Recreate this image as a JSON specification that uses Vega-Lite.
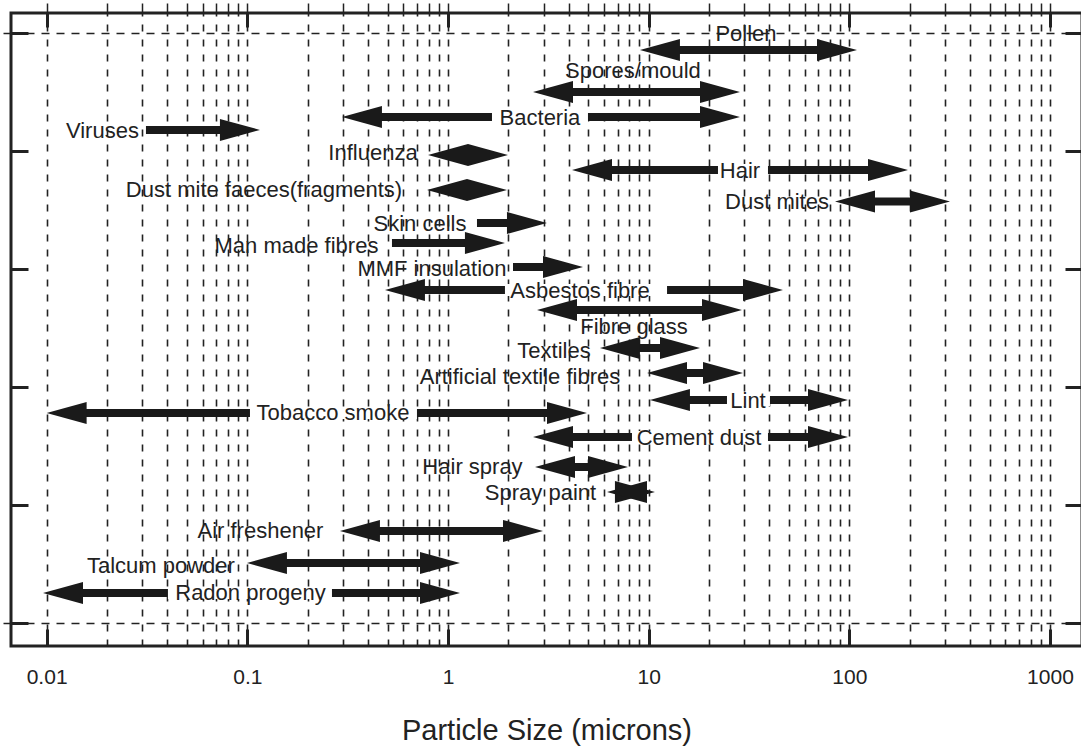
{
  "$schema": "https://vega.github.io/schema/vega-lite/v6.json",
  "width": 1071,
  "height": 633,
  "autosize": {"type": "none"},
  "padding": {"left": 11, "top": 13, "right": 0, "bottom": 108},
  "background": "white",
  "data": {
    "values": [
      {"item": "Pollen", "lo": 9.05, "hi": 109.2, "heads": "both", "ay": 4.856, "lx": 30.56, "ly": 4.99},
      {"item": "Spores/mould", "lo": 2.652, "hi": 28.52, "heads": "both", "ay": 4.5, "lx": 8.356, "ly": 4.68},
      {"item": "Bacteria", "lo": 0.2963, "hi": 28.52, "heads": "both", "ay": 4.288, "lx": 2.874, "ly": 4.278, "glo": 1.657, "ghi": 4.985},
      {"item": "Viruses", "lo": 0.03126, "hi": 0.1156, "heads": "right", "ay": 4.178, "lx": 0.01897, "ly": 4.168},
      {"item": "Influenza", "lo": 0.795, "hi": 1.991, "heads": "both", "ay": 3.966, "lx": 0.4229, "ly": 3.986},
      {"item": "Hair", "lo": 4.149, "hi": 196.1, "heads": "both", "ay": 3.839, "lx": 28.52, "ly": 3.833, "glo": 22.16, "ghi": 39.33},
      {"item": "Dust mite faeces(fragments)", "lo": 0.786, "hi": 1.968, "heads": "both", "ay": 3.669, "lx": 0.1211, "ly": 3.672},
      {"item": "Dust mites", "lo": 84.87, "hi": 317.5, "heads": "both", "ay": 3.572, "lx": 43.61, "ly": 3.571},
      {"item": "Skin cells", "lo": 1.395, "hi": 3.114, "heads": "right", "ay": 3.39, "lx": 0.7252, "ly": 3.384},
      {"item": "Man made fibres", "lo": 0.5259, "hi": 1.923, "heads": "right", "ay": 3.22, "lx": 0.1758, "ly": 3.198},
      {"item": "MMF insulation", "lo": 2.109, "hi": 4.708, "heads": "right", "ay": 3.017, "lx": 0.8322, "ly": 3.003},
      {"item": "Asbestos fibre", "lo": 0.4853, "hi": 46.71, "heads": "both", "ay": 2.822, "lx": 4.548, "ly": 2.816, "glo": 1.923, "ghi": 12.35},
      {"item": "Fibre glass", "lo": 2.777, "hi": 29.18, "heads": "both", "ay": 2.653, "lx": 8.452, "ly": 2.511},
      {"item": "Textiles", "lo": 5.72, "hi": 18.03, "heads": "both", "ay": 2.331, "lx": 3.375, "ly": 2.308},
      {"item": "Artificial textile fibres", "lo": 9.81, "hi": 29.52, "heads": "both", "ay": 2.119, "lx": 2.285, "ly": 2.083},
      {"item": "Lint", "lo": 10.15, "hi": 98.5, "heads": "both", "ay": 1.89, "lx": 31.27, "ly": 1.884, "glo": 24.57, "ghi": 40.24},
      {"item": "Tobacco smoke", "lo": 0.01, "hi": 4.928, "heads": "both", "ay": 1.78, "lx": 0.2673, "ly": 1.782, "glo": 0.1031, "ghi": 0.7006},
      {"item": "Cement dust", "lo": 2.652, "hi": 98.5, "heads": "both", "ay": 1.576, "lx": 17.82, "ly": 1.571, "glo": 8.26, "ghi": 39.33},
      {"item": "Hair spray", "lo": 2.714, "hi": 7.889, "heads": "both", "ay": 1.322, "lx": 1.325, "ly": 1.321},
      {"item": "Spray paint", "lo": 6.2, "hi": 10.75, "heads": "both", "ay": 1.11, "lx": 2.891, "ly": 1.1},
      {"item": "Air freshener", "lo": 0.2895, "hi": 2.975, "heads": "both", "ay": 0.78, "lx": 0.1163, "ly": 0.778},
      {"item": "Talcum powder", "lo": 0.0996, "hi": 1.148, "heads": "both", "ay": 0.508, "lx": 0.03712, "ly": 0.486},
      {"item": "Radon progeny", "lo": 0.00959, "hi": 1.148, "heads": "both", "ay": 0.254, "lx": 0.1037, "ly": 0.257, "glo": 0.04023, "ghi": 0.2642}
    ]
  },
  "config": {
    "view": {"stroke": "#222222", "strokeWidth": 3},
    "axis": {
      "domain": false,
      "labelFont": "Liberation Sans",
      "titleFont": "Liberation Sans",
      "labelColor": "#222222",
      "titleColor": "#222222",
      "tickColor": "#222222",
      "gridColor": "#222222",
      "gridOpacity": 1
    }
  },
  "resolve": {"axis": {"x": "independent", "y": "independent"}},
  "layer": [
    {
      "transform": [{"filter": "datum.heads === 'both'"}],
      "mark": {"type": "rule", "strokeWidth": 8, "color": "#1a1a1a", "strokeCap": "butt", "xOffset": 20, "x2Offset": -20},
      "encoding": {
        "x": {
          "field": "lo", "type": "quantitative",
          "scale": {"type": "log", "domain": [0.006644, 1444], "nice": false},
          "axis": {"orient": "bottom", "values": [0.01, 0.1, 1, 10, 100, 1000], "format": "~g", "ticks": false, "grid": false, "labelFontSize": 21, "labelPadding": 20, "labelFlush": false, "labelOverlap": false, "title": "Particle Size (microns)", "titleFontSize": 29, "titleFontWeight": "normal", "titlePadding": 29}
        },
        "x2": {"field": "hi"},
        "y": {
          "field": "ay", "type": "quantitative",
          "scale": {"domain": [-0.195, 5.169], "nice": false, "zero": false},
          "axis": {"orient": "left", "values": [0, 5], "labels": false, "grid": true, "gridDash": [8, 7], "gridWidth": 1.5, "tickSize": 11, "tickDash": [8, 7], "tickWidth": 1.5, "title": null}
        }
      }
    },
    {
      "transform": [{"filter": "datum.heads === 'right'"}],
      "mark": {"type": "rule", "strokeWidth": 8, "color": "#1a1a1a", "strokeCap": "butt", "x2Offset": -20},
      "encoding": {
        "x": {
          "field": "lo", "type": "quantitative",
          "scale": {"type": "log", "domain": [0.006644, 1444], "nice": false},
          "axis": {"orient": "bottom", "values": [0.01, 0.1, 1, 10, 100, 1000], "labels": false, "grid": false, "tickSize": -17, "tickWidth": 3, "title": null}
        },
        "x2": {"field": "hi"},
        "y": {
          "field": "ay", "type": "quantitative",
          "scale": {"domain": [-0.195, 5.169], "nice": false, "zero": false},
          "axis": {"orient": "left", "values": [0, 1, 2, 3, 4, 5], "labels": false, "grid": false, "tickSize": -17, "tickWidth": 3, "title": null}
        }
      }
    },
    {
      "transform": [{"filter": "isValid(datum.glo)"}],
      "mark": {"type": "rule", "strokeWidth": 12, "color": "white", "strokeCap": "butt"},
      "encoding": {
        "x": {
          "field": "glo", "type": "quantitative",
          "scale": {"type": "log", "domain": [0.006644, 1444], "nice": false},
          "axis": {"orient": "top", "values": [0.01, 0.1, 1, 10, 100, 1000], "labels": false, "grid": false, "tickSize": -14, "tickWidth": 3, "title": null}
        },
        "x2": {"field": "ghi"},
        "y": {
          "field": "ay", "type": "quantitative",
          "scale": {"domain": [-0.195, 5.169], "nice": false, "zero": false},
          "axis": {"orient": "right", "values": [0, 1, 2, 3, 4, 5], "labels": false, "grid": false, "tickSize": -17, "tickWidth": 3, "title": null}
        }
      }
    },
    {
      "mark": {"type": "point", "shape": "M 0 0 L -4 -1.1 L -4 1.1 Z", "size": 400, "filled": true, "color": "#1a1a1a", "opacity": 1, "strokeWidth": 0},
      "encoding": {
        "x": {
          "field": "hi", "type": "quantitative",
          "scale": {"type": "log", "domain": [0.006644, 1444], "nice": false},
          "axis": {"orient": "top", "values": [0.01, 0.02, 0.03, 0.04, 0.05, 0.06, 0.07, 0.08, 0.09, 0.1, 0.2, 0.3, 0.4, 0.5, 0.6, 0.7, 0.8, 0.9, 1, 2, 3, 4, 5, 6, 7, 8, 9, 10, 20, 30, 40, 50, 60, 70, 80, 90, 100, 200, 300, 400, 500, 600, 700, 800, 900, 1000], "labels": false, "grid": true, "gridDash": [7, 8], "gridWidth": 1.6, "tickSize": 10, "tickWidth": 1.5, "title": null}
        },
        "y": {
          "field": "ay", "type": "quantitative",
          "scale": {"domain": [-0.195, 5.169], "nice": false, "zero": false},
          "axis": null
        }
      }
    },
    {
      "transform": [{"filter": "datum.heads === 'both'"}],
      "mark": {"type": "point", "shape": "M 0 0 L 4 -1.1 L 4 1.1 Z", "size": 400, "filled": true, "color": "#1a1a1a", "opacity": 1, "strokeWidth": 0},
      "encoding": {
        "x": {
          "field": "lo", "type": "quantitative",
          "scale": {"type": "log", "domain": [0.006644, 1444], "nice": false},
          "axis": null
        },
        "y": {
          "field": "ay", "type": "quantitative",
          "scale": {"domain": [-0.195, 5.169], "nice": false, "zero": false},
          "axis": null
        }
      }
    },
    {
      "mark": {"type": "text", "font": "Liberation Sans", "fontSize": 22, "color": "#222222", "align": "center", "baseline": "middle"},
      "encoding": {
        "x": {
          "field": "lx", "type": "quantitative",
          "scale": {"type": "log", "domain": [0.006644, 1444], "nice": false},
          "axis": null
        },
        "y": {
          "field": "ly", "type": "quantitative",
          "scale": {"domain": [-0.195, 5.169], "nice": false, "zero": false},
          "axis": null
        },
        "text": {"field": "item", "type": "nominal"}
      }
    }
  ]
}
